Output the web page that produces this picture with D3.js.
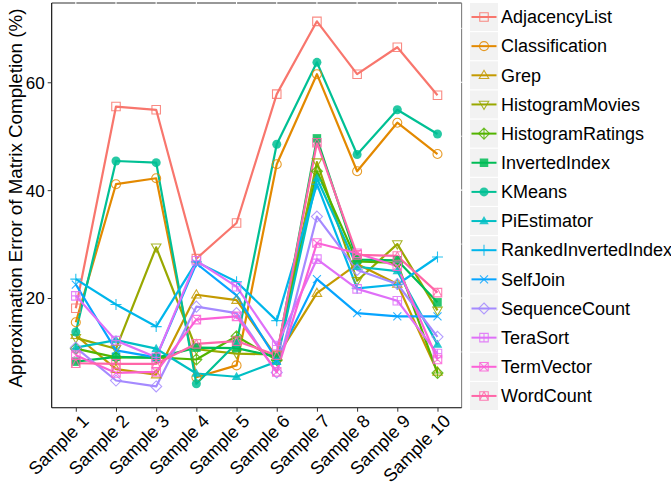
<!DOCTYPE html>
<html>
<head>
<meta charset="utf-8">
<script src="https://cdn.jsdelivr.net/npm/d3@7"></script>
<style>
body { margin:0; background:#fff; }
text { font-family: "Liberation Sans", Arial, sans-serif; fill:#000; }
</style>
</head>
<body>
<div id="chart"></div>
<script>
let width = 671,
    height = 485;

let panel = {left:51.7, right:461.6, top:3, bottom:407.7};

// ---- data ----
let samples = ["Sample 1","Sample 2","Sample 3","Sample 4","Sample 5","Sample 6","Sample 7","Sample 8","Sample 9","Sample 10"];
let jobs = ["AdjacencyList","Classification","Grep","HistogramMovies","HistogramRatings","InvertedIndex","KMeans",
            "PiEstimator","RankedInvertedIndex","SelfJoin","SequenceCount","TeraSort","TermVector","WordCount"];

let adjacencyList       = [18.1, 55.5, 54.9, 27.3, 33.9, 57.8, 71.3, 61.5, 66.5, 57.6];
let classification      = [15.5, 41.1, 42.2,  5.3,  7.5, 44.8, 61.5, 43.5, 52.5, 46.7];
let grep                = [13.1,  6.8,  5.8, 20.6, 19.6,  9.0, 20.9, 26.3, 22.6,  6.3];
let histogramMovies     = [12.6, 10.6, 29.4, 10.5,  9.7,  9.5, 45.2, 23.2, 30.0, 17.7];
let histogramRatings    = [10.6,  9.0,  9.0,  8.6, 12.9,  8.5, 43.5, 26.8, 26.5,  6.1];
let invertedIndex       = [ 8.2,  9.1,  8.9, 10.8, 10.7,  9.1, 49.6, 27.1, 27.0, 19.2];
let kMeans              = [13.7, 45.4, 45.1,  4.1, 11.6, 48.5, 63.7, 46.6, 54.9, 50.4];
let piEstimator         = [10.8, 12.2, 10.6,  6.0,  5.4,  8.2, 42.2, 25.8, 25.0, 11.4];
let rankedInvertedIndex = [23.5, 18.8, 14.7, 26.7, 23.0, 15.8, 41.1, 21.8, 22.5, 27.6];
let selfJoin            = [22.5, 10.3,  9.0, 26.4, 20.5,  8.5, 23.5, 17.2, 16.6, 16.6];
let sequenceCount       = [10.8,  4.7,  3.6, 18.4, 17.2,  6.2, 35.1, 25.2, 22.6, 12.8];
let teraSort            = [20.4, 12.1,  9.0, 26.9, 22.1, 11.2, 27.2, 21.7, 19.5,  9.7];
let termVector          = [ 9.4,  6.1,  6.3, 16.0, 16.6,  6.3, 30.2, 28.3, 25.9,  8.6];
let wordCount           = [ 7.9,  7.8,  7.8, 11.5, 12.0,  9.4, 48.8, 28.0, 27.8, 21.0];

let seriesValues = [adjacencyList, classification, grep, histogramMovies, histogramRatings, invertedIndex, kMeans,
                    piEstimator, rankedInvertedIndex, selfJoin, sequenceCount, teraSort, termVector, wordCount];

let colors = ["#F8766D","#E38900","#C49A00","#99A800","#53B400","#00BC56","#00C094",
              "#00BFC4","#00B6EB","#06A4FF","#A58AFF","#DF70F8","#FB61D7","#FF66A8"];
// ggplot shape codes
let shapes = [0, 1, 2, 6, 9, 15, 16, 17, 3, 4, 5, 12, 7, 14];

let yTicks = [20, 40, 60];
let yMinor = [10, 30, 50, 70];

let series = jobs.map(function(name, i) {
    return {name:name, color:colors[i], shape:shapes[i],
            values:seriesValues[i].map(function(v, j){ return {sample:samples[j], value:v}; })};
});

// ---- scales ----
let xScale = d3.scalePoint()
    .domain(samples)
    .range([panel.left, panel.right])
    .padding(0.6);

let yScale = d3.scaleLinear()
    .domain([-0.34, 74.7])
    .range([panel.bottom, panel.top]);

let svg = d3.select("#chart").append("svg")
    .attr("width", width)
    .attr("height", height);

// shape path around (0,0)
function shapePath(code, r) {
    let p = d3.path();
    let sq = function(h){ p.rect(-h, -h, 2*h, 2*h); };
    if (code == 0 || code == 15) { sq(r*0.85); }
    else if (code == 1 || code == 16) { p.arc(0, 0, r*0.9, 0, 2*Math.PI); }
    else if (code == 2 || code == 17) {
        p.moveTo(0, -r); p.lineTo(r*0.95, r*0.65); p.lineTo(-r*0.95, r*0.65); p.closePath();
    }
    else if (code == 6) {
        p.moveTo(0, r); p.lineTo(r*0.95, -r*0.65); p.lineTo(-r*0.95, -r*0.65); p.closePath();
    }
    else if (code == 3) { p.moveTo(-r*1.1, 0); p.lineTo(r*1.1, 0); p.moveTo(0, -r*1.1); p.lineTo(0, r*1.1); }
    else if (code == 4) { let h = r*0.8; p.moveTo(-h,-h); p.lineTo(h,h); p.moveTo(-h,h); p.lineTo(h,-h); }
    else if (code == 5 || code == 9) {
        p.moveTo(0,-r*1.1); p.lineTo(r*1.1,0); p.lineTo(0,r*1.1); p.lineTo(-r*1.1,0); p.closePath();
        if (code == 9) { p.moveTo(-r*1.1,0); p.lineTo(r*1.1,0); p.moveTo(0,-r*1.1); p.lineTo(0,r*1.1); }
    }
    else if (code == 12) {
        let h = r*0.85; sq(h);
        p.moveTo(-h,0); p.lineTo(h,0); p.moveTo(0,-h); p.lineTo(0,h);
    }
    else if (code == 7) {
        let h = r*0.85; sq(h);
        p.moveTo(-h,-h); p.lineTo(h,h); p.moveTo(-h,h); p.lineTo(h,-h);
    }
    else if (code == 14) {
        let h = r*0.85; sq(h);
        p.moveTo(-h,h); p.lineTo(0,-h); p.lineTo(h,h);
    }
    return p.toString();
}
function isFilled(code) { return code == 15 || code == 16 || code == 17; }

// ---- panel border (top/right) ----
svg.append("line")
    .attr("x1", panel.left).attr("x2", panel.right)
    .attr("y1", panel.top).attr("y2", panel.top)
    .attr("stroke", "#333").attr("stroke-width", 1.1);
svg.append("line")
    .attr("x1", panel.right).attr("x2", panel.right)
    .attr("y1", panel.top).attr("y2", panel.bottom)
    .attr("stroke", "#7f7f7f").attr("stroke-width", 1.1);

// white grid lines (only visible where they cross the border)
let grid = svg.append("g").attr("stroke", "#fff");
grid.selectAll(".gy")
    .data(yTicks.concat(yMinor))
    .enter().append("line")
    .attr("x1", panel.left).attr("x2", panel.right + 1)
    .attr("y1", function(d){ return yScale(d); })
    .attr("y2", function(d){ return yScale(d); })
    .attr("stroke-width", function(d){ return yTicks.indexOf(d) >= 0 ? 1.1 : 0.6; });
grid.selectAll(".gx")
    .data(samples)
    .enter().append("line")
    .attr("x1", function(d){ return xScale(d); })
    .attr("x2", function(d){ return xScale(d); })
    .attr("y1", panel.top - 1).attr("y2", panel.bottom)
    .attr("stroke-width", 1.1);

// ---- lines ----
let line = d3.line()
    .x(function(d){ return xScale(d.sample); })
    .y(function(d){ return yScale(d.value); });

svg.append("g").selectAll(".series")
    .data(series)
    .enter().append("path")
    .attr("class", "series")
    .attr("d", function(d){ return line(d.values); })
    .attr("fill", "none")
    .attr("stroke", function(d){ return d.color; })
    .attr("stroke-width", 2.2)
    .attr("stroke-linejoin", "round");

// ---- points ----
let pointGroups = svg.append("g").selectAll(".pts")
    .data(series)
    .enter().append("g")
    .attr("class", "pts");

pointGroups.selectAll("path")
    .data(function(d){ return d.values.map(function(v){ return {s:d, v:v}; }); })
    .enter().append("path")
    .attr("transform", function(d){ return "translate(" + xScale(d.v.sample) + "," + yScale(d.v.value) + ")"; })
    .attr("d", function(d){ return shapePath(d.s.shape, 5); })
    .attr("fill", function(d){ return isFilled(d.s.shape) ? d.s.color : "none"; })
    .attr("stroke", function(d){ return d.s.color; })
    .attr("stroke-width", function(d){ return isFilled(d.s.shape) ? 0 : 1.1; })
    .attr("opacity", 0.85);

// ---- axes ----
let yAxis = svg.append("g")
    .attr("transform", "translate(" + panel.left + ",0)")
    .call(d3.axisLeft(yScale).tickValues(yTicks).tickSize(4).tickPadding(3));
let xAxis = svg.append("g")
    .attr("transform", "translate(0," + panel.bottom + ")")
    .call(d3.axisBottom(xScale).tickSize(4).tickPadding(3));

[yAxis, xAxis].forEach(function(ax){
    ax.select(".domain").attr("stroke", "#000").attr("stroke-width", 1.1);
    ax.selectAll(".tick line").attr("stroke", "#333");
    ax.selectAll("text").attr("fill", "#000").attr("font-family", "Liberation Sans, Arial, sans-serif");
});
yAxis.select(".domain").attr("d", "M0," + panel.top + "V" + panel.bottom);
xAxis.select(".domain").attr("d", "M" + panel.left + ",0H" + panel.right);

yAxis.selectAll("text").attr("font-size", 17).attr("dy", "0.35em");
xAxis.selectAll("text")
    .attr("font-size", 18)
    .attr("text-anchor", "end")
    .attr("dy", "0.6em")
    .attr("transform", "translate(1,2) rotate(-45)");

svg.append("text")
    .attr("transform", "translate(22,198) rotate(-90)")
    .attr("text-anchor", "middle")
    .attr("font-size", 18.8)
    .text("Approximation Error of Matrix Completion (%)");

// ---- legend ----
let legend = svg.append("g").attr("transform", "translate(470,3)");
let keyH = 29.15;
let items = legend.selectAll(".item")
    .data(series)
    .enter().append("g")
    .attr("class", "item")
    .attr("transform", function(d, i){ return "translate(0," + (i * keyH) + ")"; });

items.append("rect")
    .attr("width", 28).attr("height", 28)
    .attr("fill", "#f2f2f2");
items.append("line")
    .attr("x1", 1.5).attr("x2", 26.5)
    .attr("y1", 14).attr("y2", 14)
    .attr("stroke", function(d){ return d.color; })
    .attr("stroke-width", 2);
items.append("path")
    .attr("transform", "translate(14,14)")
    .attr("d", function(d){ return shapePath(d.shape, 5); })
    .attr("fill", function(d){ return isFilled(d.shape) ? d.color : "none"; })
    .attr("stroke", function(d){ return d.color; })
    .attr("stroke-width", function(d){ return isFilled(d.shape) ? 0 : 1.1; })
    .attr("opacity", 0.85);
items.append("text")
    .attr("x", 31).attr("y", 14)
    .attr("dy", "0.35em")
    .attr("font-size", 18)
    .text(function(d){ return d.name; });
</script>
</body>
</html>
